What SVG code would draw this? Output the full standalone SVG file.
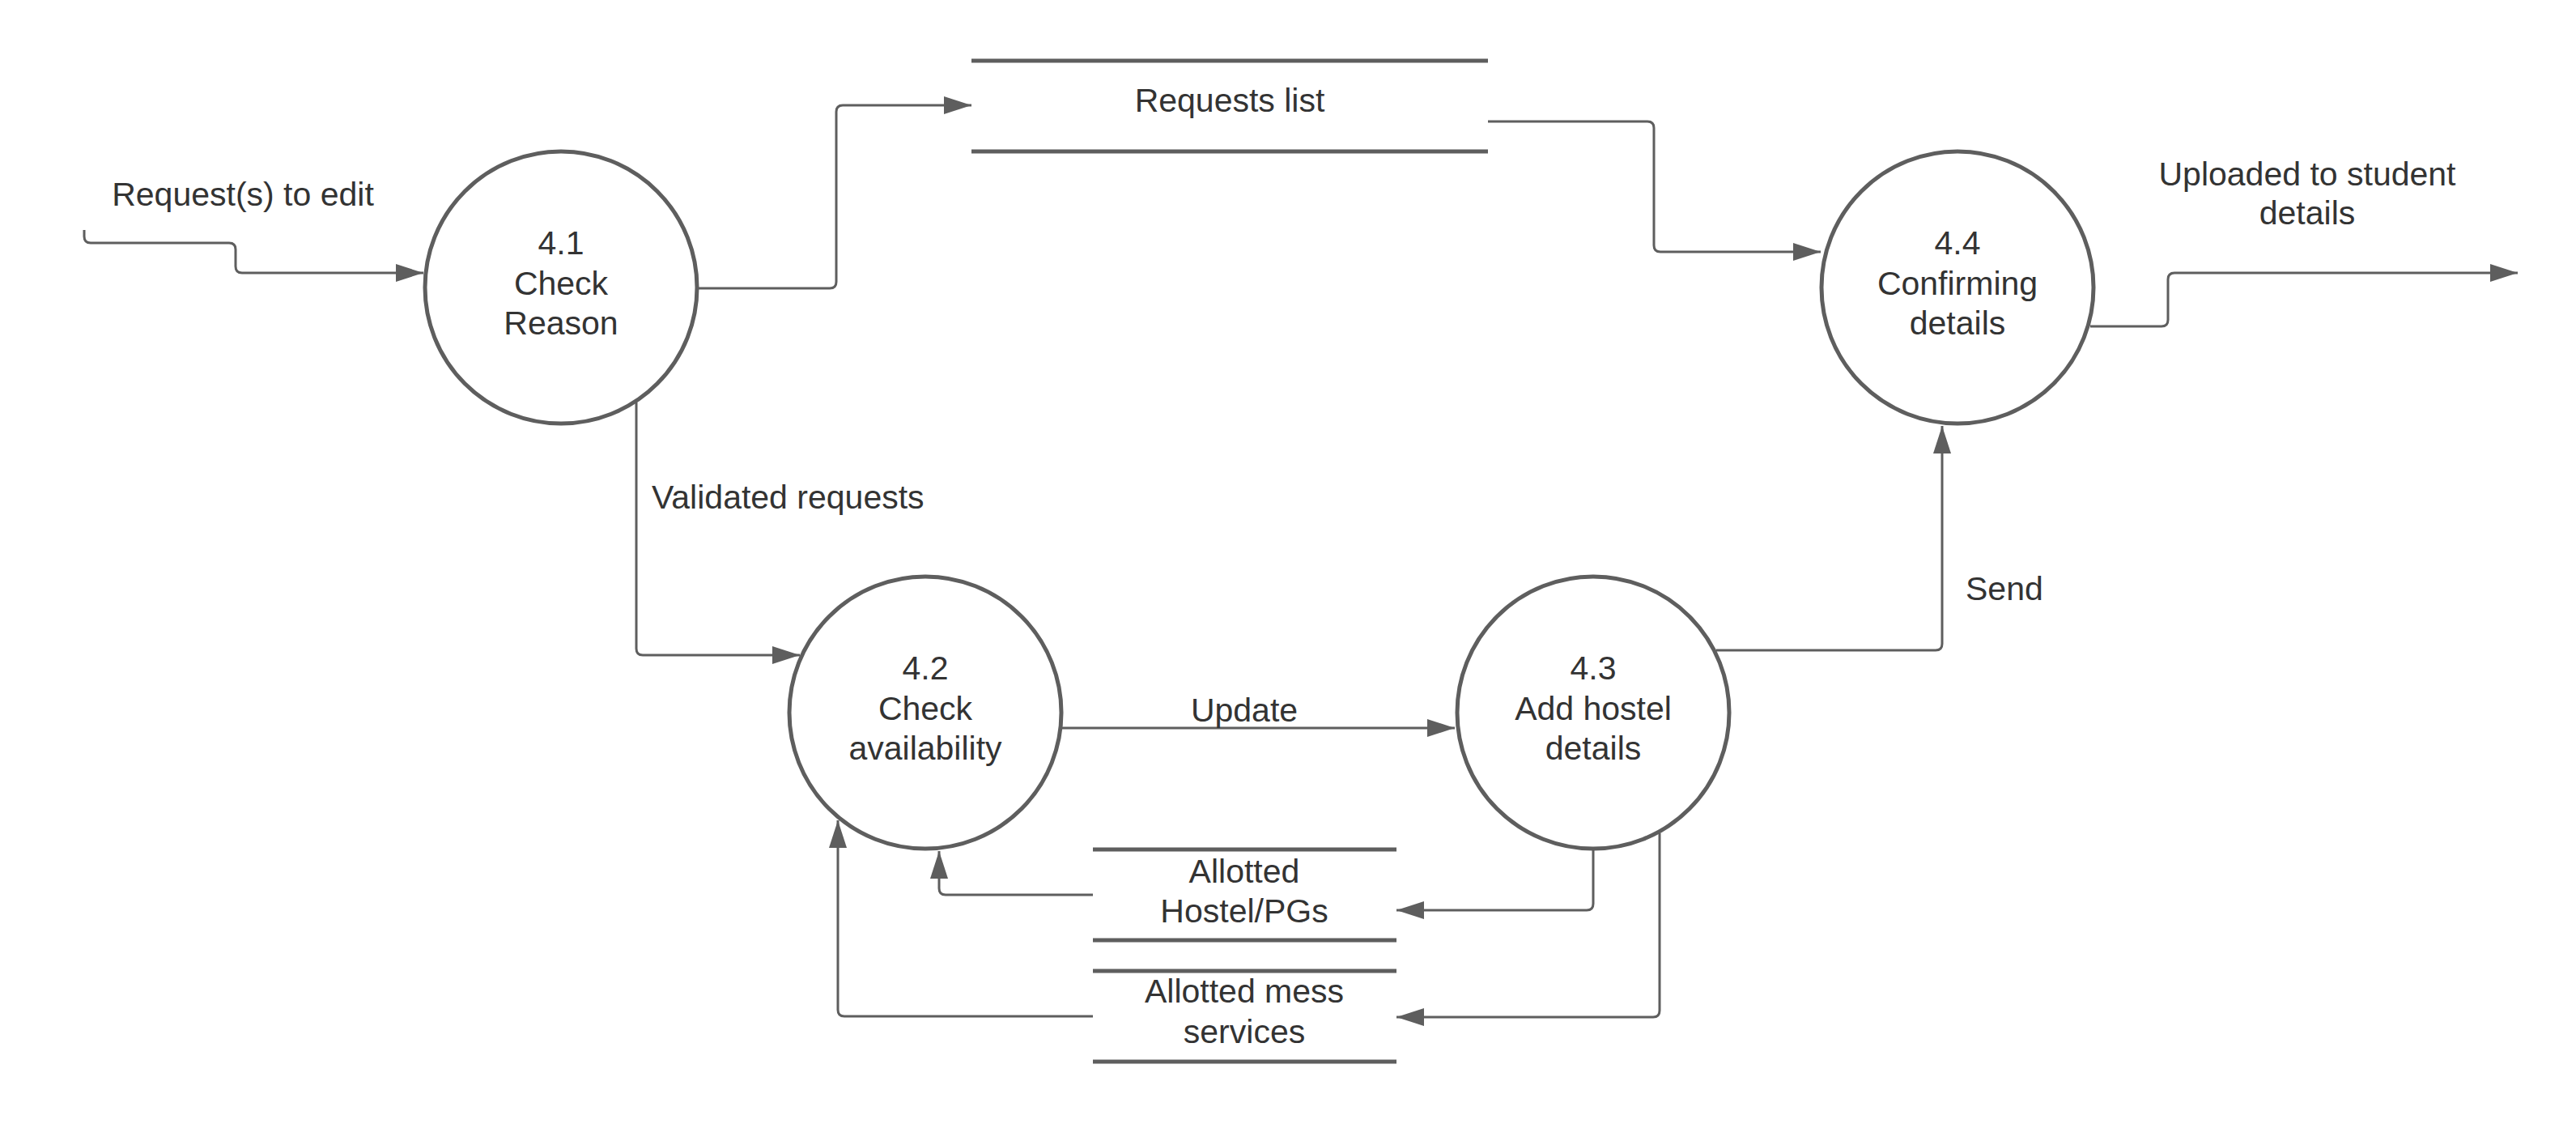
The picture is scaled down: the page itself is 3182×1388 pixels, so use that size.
<svg xmlns="http://www.w3.org/2000/svg" width="3182" height="1388" viewBox="0 0 3182 1388">
<style>
.bg{fill:#ffffff}
.proc{fill:#ffffff;stroke:#5e5e5e;stroke-width:5}
.store{stroke:#5e5e5e;stroke-width:5;fill:none}
.conn{fill:none;stroke:#5e5e5e;stroke-width:3;marker-end:url(#arr)}
.t{font-family:"Liberation Sans",Arial,sans-serif;font-size:41px;fill:#333333}
.c{text-anchor:middle}
</style>
<defs>
<marker id="arr" markerUnits="userSpaceOnUse" markerWidth="34" markerHeight="22" refX="34" refY="11" orient="auto">
<path d="M0,0 L34,11 L0,22 Z" fill="#5e5e5e"/>
</marker>
</defs>
<rect class="bg" x="0" y="0" width="3182" height="1388"/>
<g id="connectors">
<path class="conn" d="M104,284 L104,292 Q104,300 112,300 L283,300 Q291,300 291,308 L291,329 Q291,337 299,337 L523,337"/>
<path class="conn" d="M862,356 L1025,356 Q1033,356 1033,348 L1033,138 Q1033,130 1041,130 L1200,130"/>
<path class="conn" d="M1838,150 L2035,150 Q2043,150 2043,158 L2043,303 Q2043,311 2051,311 L2249,311"/>
<path class="conn" d="M2582,403 L2670,403 Q2678,403 2678,395 L2678,345 Q2678,337 2686,337 L3110,337"/>
<path class="conn" d="M786,497 L786,801 Q786,809 794,809 L988,809"/>
<path class="conn" d="M1312,899 L1797,899"/>
<path class="conn" d="M2120,803 L2391,803 Q2399,803 2399,795 L2399,526"/>
<path class="conn" d="M1968,1050 L1968,1116 Q1968,1124 1960,1124 L1725,1124"/>
<path class="conn" d="M2050,1029 L2050,1248 Q2050,1256 2042,1256 L1725,1256"/>
<path class="conn" d="M1350,1105 L1168,1105 Q1160,1105 1160,1097 L1160,1051"/>
<path class="conn" d="M1350,1255 L1043,1255 Q1035,1255 1035,1247 L1035,1013"/>
<text class="t c" x="300" y="254">Request(s) to edit</text>
<text class="t c" x="2850" y="229">Uploaded to student</text>
<text class="t c" x="2850" y="277">details</text>
<text class="t" x="805" y="628">Validated requests</text>
<text class="t c" x="1537" y="891">Update</text>
<text class="t" x="2428" y="741">Send</text>
</g>
<g id="p41">
<circle class="proc" cx="693" cy="355" r="168"/>
<text class="t c" x="693" y="314">4.1</text>
<text class="t c" x="693" y="364">Check</text>
<text class="t c" x="693" y="413">Reason</text>
</g>
<g id="p42">
<circle class="proc" cx="1143" cy="880" r="168"/>
<text class="t c" x="1143" y="839">4.2</text>
<text class="t c" x="1143" y="889">Check</text>
<text class="t c" x="1143" y="938">availability</text>
</g>
<g id="p43">
<circle class="proc" cx="1968" cy="880" r="168"/>
<text class="t c" x="1968" y="839">4.3</text>
<text class="t c" x="1968" y="889">Add hostel</text>
<text class="t c" x="1968" y="938">details</text>
</g>
<g id="p44">
<circle class="proc" cx="2418" cy="355" r="168"/>
<text class="t c" x="2418" y="314">4.4</text>
<text class="t c" x="2418" y="364">Confirming</text>
<text class="t c" x="2418" y="413">details</text>
</g>
<g id="ds_requests">
<path class="store" d="M1200,75 L1838,75 M1200,187 L1838,187"/>
<text class="t c" x="1519" y="138">Requests list</text>
</g>
<g id="ds_hostel">
<path class="store" d="M1350,1049 L1725,1049 M1350,1161 L1725,1161"/>
<text class="t c" x="1537" y="1090">Allotted</text>
<text class="t c" x="1537" y="1139">Hostel/PGs</text>
</g>
<g id="ds_mess">
<path class="store" d="M1350,1199 L1725,1199 M1350,1311 L1725,1311"/>
<text class="t c" x="1537" y="1238">Allotted mess</text>
<text class="t c" x="1537" y="1288">services</text>
</g>
</svg>
